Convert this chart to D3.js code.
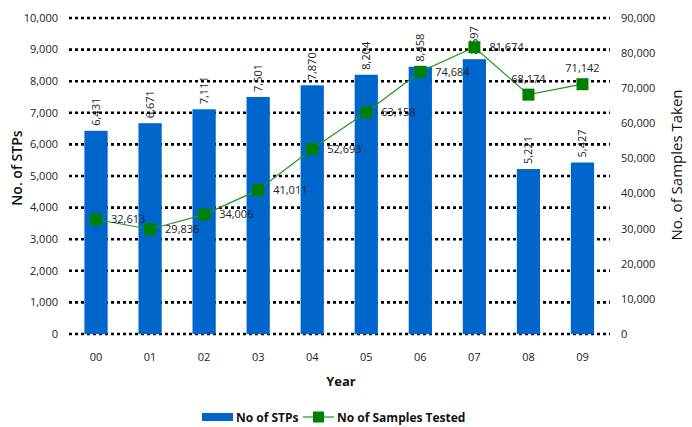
<!DOCTYPE html>
<html lang="en">
<head>
    <meta charset="UTF-8">
    <title>STPs and Samples Tested</title>
    <script src="https://d3js.org/d3.v7.min.js"></script>
    <style>
        body { margin: 0; background: #fff; }
        svg { font-family: "Open Sans", sans-serif; }
        .tick-label { font-size: 11px; fill: #222; }
        .val-label { font-size: 11px; fill: #222; }
        .title { font-size: 13px; font-weight: bold; fill: #111; }
        .legend { font-size: 12px; font-weight: bold; fill: #111; }
    </style>
</head>
<body>
<svg width="692" height="427"></svg>
<script>
    // data
    const years = ["00", "01", "02", "03", "04", "05", "06", "07", "08", "09"];
    const stps = [6431, 6671, 7111, 7501, 7870, 8204, 8458, 8697, 5221, 5427];
    const samples = [32613, 29836, 34006, 41011, 52693, 63158, 74684, 81674, 68174, 71142];
    const leftTicks = d3.range(0, 10001, 1000);
    const rightTicks = d3.range(0, 90001, 10000);

    const svg = d3.select("svg");
    const fmt = d3.format(",");

    const x = d3.scaleBand().domain(years).range([69, 609.5]).paddingInner(0.57).paddingOuter(0.285);
    const yL = d3.scaleLinear().domain([0, 10000]).range([334, 18]);
    const yR = d3.scaleLinear().domain([0, 90000]).range([334, 18]);

    // dotted gridlines
    svg.append("g").selectAll("line")
        .data(leftTicks)
        .enter().append("line")
        .attr("x1", 69).attr("x2", 610)
        .attr("y1", d => yL(d)).attr("y2", d => yL(d))
        .attr("stroke", "#000")
        .attr("stroke-width", 2.6)
        .attr("stroke-dasharray", "3,3");

    // left tick labels
    svg.append("g").selectAll("text")
        .data(leftTicks)
        .enter().append("text")
        .attr("class", "tick-label")
        .attr("x", 58).attr("y", d => yL(d))
        .attr("dy", "0.35em")
        .attr("text-anchor", "end")
        .text(d => fmt(d));

    // right tick labels
    svg.append("g").selectAll("text")
        .data(rightTicks)
        .enter().append("text")
        .attr("class", "tick-label")
        .attr("x", 621).attr("y", d => yR(d))
        .attr("dy", "0.35em")
        .text(d => fmt(d));

    // x tick labels
    svg.append("g").selectAll("text")
        .data(years)
        .enter().append("text")
        .attr("class", "tick-label")
        .attr("x", d => x(d) + x.bandwidth() / 2)
        .attr("y", 361)
        .attr("text-anchor", "middle")
        .text(d => d);

    // bars
    svg.append("g").selectAll("rect")
        .data(stps)
        .enter().append("rect")
        .attr("x", (d, i) => x(years[i]))
        .attr("y", d => yL(d))
        .attr("width", x.bandwidth())
        .attr("height", d => yL(0) - yL(d))
        .attr("fill", "#0066CC");

    // bar value labels, rotated
    svg.append("g").selectAll("text")
        .data(stps)
        .enter().append("text")
        .attr("class", "val-label")
        .attr("transform", (d, i) => "translate(" + (x(years[i]) + x.bandwidth() / 2 + 4) + "," + (yL(d) - 5) + ") rotate(-90)")
        .text(d => fmt(d));

    // sample line
    const cx = i => x(years[i]) + x.bandwidth() / 2;
    const line = d3.line()
        .x((d, i) => cx(i))
        .y(d => yR(d));

    svg.append("path")
        .datum(samples)
        .attr("d", line)
        .attr("fill", "none")
        .attr("stroke", "#1a9a1a")
        .attr("stroke-width", 1.2);

    svg.append("g").selectAll("rect")
        .data(samples)
        .enter().append("rect")
        .attr("x", (d, i) => cx(i) - 6)
        .attr("y", d => yR(d) - 6)
        .attr("width", 12).attr("height", 12)
        .attr("fill", "#008000");

    // line value labels: right of the marker, last two above it
    svg.append("g").selectAll("text")
        .data(samples)
        .enter().append("text")
        .attr("class", "val-label")
        .attr("x", (d, i) => i >= 8 ? cx(i) : cx(i) + 15)
        .attr("y", (d, i) => i >= 8 ? yR(d) - 12 : yR(d))
        .attr("dy", (d, i) => i >= 8 ? 0 : "0.35em")
        .attr("text-anchor", (d, i) => i >= 8 ? "middle" : "start")
        .text(d => fmt(d));

    // axis titles
    svg.append("text")
        .attr("class", "title")
        .style("font-size", "14px")
        .style("font-weight", 600)
        .attr("transform", "translate(22,168) rotate(-90)")
        .attr("text-anchor", "middle")
        .text("No. of STPs");

    svg.append("text")
        .attr("class", "title")
        .style("font-size", "15px")
        .style("font-weight", "normal")
        .attr("transform", "translate(682,165) rotate(-90)")
        .attr("text-anchor", "middle")
        .text("No. of Samples Taken");

    svg.append("text")
        .attr("class", "title")
        .attr("x", 341).attr("y", 386)
        .attr("text-anchor", "middle")
        .text("Year");

    // legend
    const lg = svg.append("g");
    lg.append("rect")
        .attr("x", 202).attr("y", 413)
        .attr("width", 31).attr("height", 8)
        .attr("fill", "#0066CC");
    lg.append("text")
        .attr("class", "legend")
        .attr("x", 236).attr("y", 422)
        .text("No of STPs");
    lg.append("line")
        .attr("x1", 303).attr("x2", 334)
        .attr("y1", 417).attr("y2", 417)
        .attr("stroke", "#1a9a1a")
        .attr("stroke-width", 1.2);
    lg.append("rect")
        .attr("x", 313).attr("y", 411.5)
        .attr("width", 11).attr("height", 11)
        .attr("fill", "#008000");
    lg.append("text")
        .attr("class", "legend")
        .attr("x", 337).attr("y", 422)
        .text("No of Samples Tested");
</script>
</body>
</html>
